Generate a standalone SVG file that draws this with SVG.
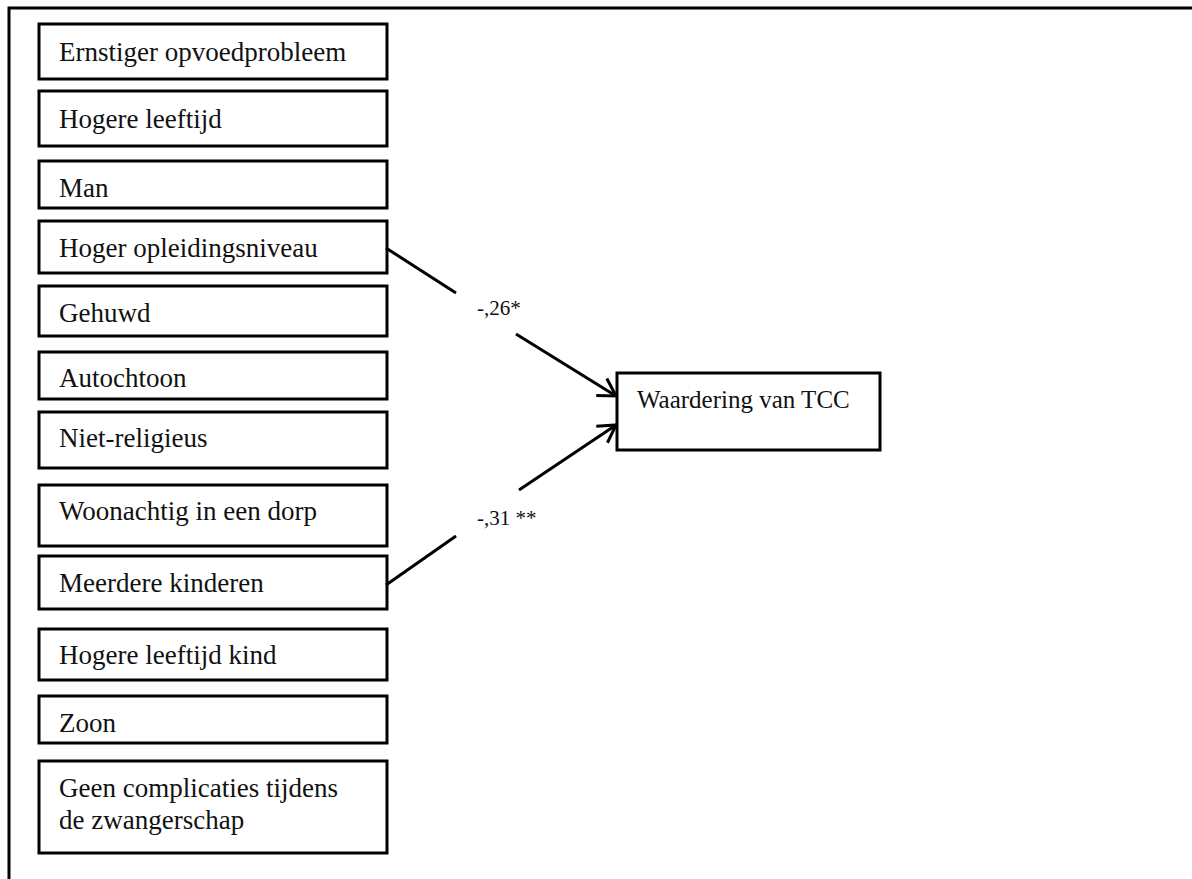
<svg xmlns="http://www.w3.org/2000/svg" width="1192" height="879" viewBox="0 0 1192 879">
<style>
.box{fill:#fff;stroke:#000;stroke-width:3}
.t{font-family:"Liberation Serif","Times New Roman",serif;font-size:27px;fill:#111}
.tt{font-family:"Liberation Serif","Times New Roman",serif;font-size:25px;fill:#111}
.lbl{font-family:"Liberation Serif","Times New Roman",serif;font-size:21px;fill:#111}
.c{fill:none;stroke:#000;stroke-width:3}
</style>
<defs>
<marker id="arr" viewBox="-20 -12 22 24" markerWidth="22" markerHeight="24" refX="0" refY="0" orient="auto" markerUnits="userSpaceOnUse">
<path d="M-17,-10 L0,0 L-17,10" fill="none" stroke="#000" stroke-width="3"/>
</marker>
</defs>
<rect width="1192" height="879" fill="#fff"/>
<path d="M9,879 V8 H1192" fill="none" stroke="#000" stroke-width="3"/>
<g id="n1"><rect class="box" x="39" y="24" width="348" height="55"/><text class="t" x="59" y="61">Ernstiger opvoedprobleem</text></g>
<g id="n2"><rect class="box" x="39" y="91" width="348" height="55"/><text class="t" x="59" y="128">Hogere leeftijd</text></g>
<g id="n3"><rect class="box" x="39" y="161" width="348" height="47"/><text class="t" x="59" y="197">Man</text></g>
<g id="n4"><rect class="box" x="39" y="221" width="348" height="52"/><text class="t" x="59" y="257">Hoger opleidingsniveau</text></g>
<g id="n5"><rect class="box" x="39" y="286" width="348" height="50"/><text class="t" x="59" y="322">Gehuwd</text></g>
<g id="n6"><rect class="box" x="39" y="352" width="348" height="47"/><text class="t" x="59" y="387">Autochtoon</text></g>
<g id="n7"><rect class="box" x="39" y="412" width="348" height="56"/><text class="t" x="59" y="447">Niet-religieus</text></g>
<g id="n8"><rect class="box" x="39" y="485" width="348" height="61"/><text class="t" x="59" y="520">Woonachtig in een dorp</text></g>
<g id="n9"><rect class="box" x="39" y="556" width="348" height="53"/><text class="t" x="59" y="592">Meerdere kinderen</text></g>
<g id="n10"><rect class="box" x="39" y="629" width="348" height="51"/><text class="t" x="59" y="664">Hogere leeftijd kind</text></g>
<g id="n11"><rect class="box" x="39" y="696" width="348" height="47"/><text class="t" x="59" y="732">Zoon</text></g>
<g id="n12"><rect class="box" x="39" y="761" width="348" height="92"/><text class="t" x="59" y="797">Geen complicaties tijdens</text><text class="t" x="59" y="829">de zwangerschap</text></g>
<g id="target"><rect class="box" x="617" y="373" width="263" height="77"/><text class="tt" x="637" y="408">Waardering van TCC</text></g>
<g id="connectors">
<line class="c" x1="386" y1="248" x2="456" y2="293"/>
<line class="c" x1="516" y1="334" x2="616" y2="396" marker-end="url(#arr)"/>
<line class="c" x1="386" y1="585" x2="456" y2="536"/>
<line class="c" x1="519" y1="490" x2="616" y2="425" marker-end="url(#arr)"/>
<text class="lbl" x="477" y="315">-,26*</text>
<text class="lbl" x="477" y="525">-,31 **</text>
</g>
</svg>
